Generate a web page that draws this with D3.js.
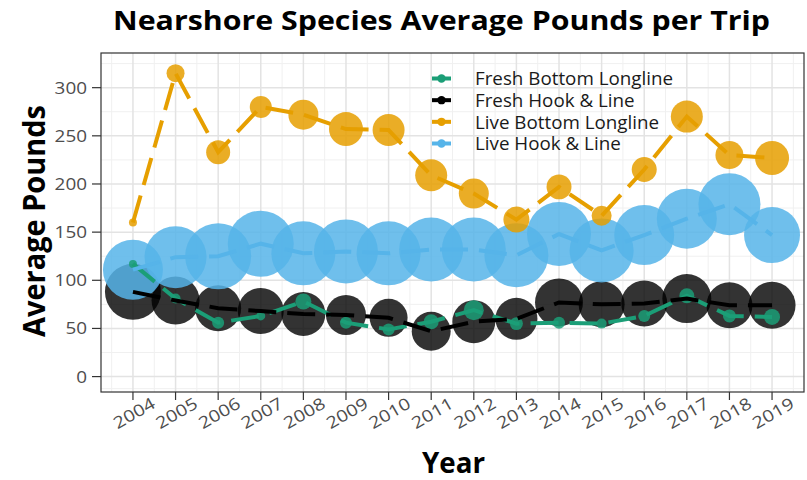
<!DOCTYPE html>
<html>
<head>
<meta charset="utf-8">
<script src="https://cdn.jsdelivr.net/npm/d3@7"></script>
<style>
body { margin:0; background:#fff; }
svg { display:block; font-family:"Open Sans", sans-serif; }
</style>
</head>
<body>
<div id="chart"></div>
<script>
// years on the x axis
var years = [2004,2005,2006,2007,2008,2009,2010,2011,2012,2013,2014,2015,2016,2017,2018,2019];

// average pounds per trip, per series
var freshBottom = [117,81,56,63,78,56,49,57,69,55,56,55,63,84,63,62];
var freshHook   = [88,79,71,68,65,64,61,47,57,60,77,75,76,81,74,74];
var liveBottom  = [160,315,233,280,272,257,256,209,190,163,197,167,215,270,230,227];
var liveHook    = [111,124,125,138,128,130,128,132,132,126,148,131,147,164,179,147];

// point size variable (trips)
var freshBottomTrips = [16,25,36,20,64,36,36,56,100,42,36,25,36,56,42,64];
var freshHookTrips   = [784,576,529,529,484,400,361,380,462,441,576,529,529,600,529,552];
var liveBottomTrips  = [16,81,144,121,225,289,256,256,225,169,156,100,156,256,196,289];
var liveHookTrips    = [900,961,1089,1089,1024,1024,1024,1024,1024,1024,1024,1024,900,900,961,784];

var seriesNames = ["Fresh Bottom Longline","Fresh Hook & Line","Live Bottom Longline","Live Hook & Line"];
var yTicks = [0,50,100,150,200,250,300];

var colors = {"Fresh Bottom Longline":"#1b9e77","Fresh Hook & Line":"#000000","Live Bottom Longline":"#e69f00","Live Hook & Line":"#56b4e9"};

var series = [
	{name:seriesNames[0], values:freshBottom, trips:freshBottomTrips},
	{name:seriesNames[1], values:freshHook, trips:freshHookTrips},
	{name:seriesNames[2], values:liveBottom, trips:liveBottomTrips},
	{name:seriesNames[3], values:liveHook, trips:liveHookTrips}
];

var W = 807, H = 480;
var pLeft = 101, pRight = 804, pTop = 53, pBottom = 392;

var svg = d3.select("#chart").append("svg").attr("width", W).attr("height", H);

var x = d3.scaleLinear().domain([2003.25, 2019.75]).range([pLeft, pRight]);
var y = d3.scaleLinear().domain([-16, 336]).range([pBottom, pTop]);
var r = d3.scaleSqrt().domain([0, 1089]).range([0, 33]);

// grid
var g = svg.append("g");
var minorX = years.slice(0, -1).map(function(d){ return d + 0.5; });
minorX.unshift(2003.5);
minorX.push(2019.5);
g.selectAll(".mx").data(minorX).enter().append("line")
	.attr("x1", function(d){ return x(d); }).attr("x2", function(d){ return x(d); })
	.attr("y1", pTop).attr("y2", pBottom).attr("stroke", "#f0f0f0").attr("stroke-width", 1);
var minorY = [-12.5,25,75,125,175,225,275,325];
g.selectAll(".my").data(minorY).enter().append("line")
	.attr("x1", pLeft).attr("x2", pRight)
	.attr("y1", function(d){ return y(d); }).attr("y2", function(d){ return y(d); })
	.attr("stroke", "#f0f0f0").attr("stroke-width", 1);
g.selectAll(".gx").data(years).enter().append("line")
	.attr("x1", function(d){ return x(d); }).attr("x2", function(d){ return x(d); })
	.attr("y1", pTop).attr("y2", pBottom).attr("stroke", "#e3e3e3").attr("stroke-width", 1.5);
g.selectAll(".gy").data(yTicks).enter().append("line")
	.attr("x1", pLeft).attr("x2", pRight)
	.attr("y1", function(d){ return y(d); }).attr("y2", function(d){ return y(d); })
	.attr("stroke", "#e3e3e3").attr("stroke-width", 1.5);

// points: drawn in the stacking order seen in the picture
var pointOrder = [1, 3, 2, 0];
pointOrder.forEach(function(k)
{
	var s = series[k];
	svg.append("g").selectAll("circle").data(s.values).enter().append("circle")
		.attr("cx", function(d, i){ return x(years[i]); })
		.attr("cy", function(d){ return y(d); })
		.attr("r", function(d, i){ return r(s.trips[i]); })
		.attr("fill", colors[s.name])
		.attr("fill-opacity", s.name == "Fresh Hook & Line" ? 0.8 : 0.85);
});

// lines on top
var line = d3.line().x(function(d, i){ return x(years[i]); }).y(function(d){ return y(d); });
[0, 1, 2, 3].forEach(function(k)
{
	var s = series[k];
	svg.append("path").attr("d", line(s.values))
		.attr("fill", "none")
		.attr("stroke", colors[s.name])
		.attr("stroke-width", 4)
		.attr("stroke-dasharray", "28,11");
});

// panel border
svg.append("rect").attr("x", pLeft).attr("y", pTop).attr("width", pRight-pLeft).attr("height", pBottom-pTop)
	.attr("fill", "none").attr("stroke", "#333").attr("stroke-width", 1.2);

// y axis
var ya = svg.append("g");
ya.selectAll("line").data(yTicks).enter().append("line")
	.attr("x1", pLeft-9).attr("x2", pLeft)
	.attr("y1", function(d){ return y(d); }).attr("y2", function(d){ return y(d); })
	.attr("stroke", "#333").attr("stroke-width", 1.2);
ya.selectAll("text").data(yTicks).enter().append("text")
	.attr("x", 87).attr("y", function(d){ return y(d); })
	.attr("dy", "0.36em").attr("text-anchor", "end")
	.attr("font-size", 16.5).attr("fill", "#4d4d4d")
	.attr("textLength", function(d){ return String(d).length * 10.8; })
	.attr("lengthAdjust", "spacingAndGlyphs")
	.text(function(d){ return d; });

// x axis
var xa = svg.append("g");
xa.selectAll("line").data(years).enter().append("line")
	.attr("x1", function(d){ return x(d); }).attr("x2", function(d){ return x(d); })
	.attr("y1", pBottom).attr("y2", pBottom+8)
	.attr("stroke", "#333").attr("stroke-width", 1.2);
xa.selectAll("text").data(years).enter().append("text")
	.attr("transform", function(d){ return "translate(" + (x(d)+1) + ",413) rotate(-30)"; })
	.attr("dy", "0.36em").attr("text-anchor", "middle")
	.attr("font-size", 16.5).attr("fill", "#4d4d4d")
	.attr("textLength", 45).attr("lengthAdjust", "spacingAndGlyphs")
	.text(function(d){ return d; });

// titles
svg.append("text").attr("x", 441.5).attr("y", 30).attr("text-anchor", "middle")
	.attr("font-size", 27).attr("font-weight", "bold").attr("fill", "#000")
	.attr("textLength", 657).attr("lengthAdjust", "spacingAndGlyphs")
	.text("Nearshore Species Average Pounds per Trip");
svg.append("text").attr("x", 453.5).attr("y", 473).attr("text-anchor", "middle")
	.attr("font-size", 29).attr("font-weight", "bold").attr("fill", "#000")
	.attr("textLength", 63).attr("lengthAdjust", "spacingAndGlyphs")
	.text("Year");
svg.append("text").attr("transform", "translate(45,221) rotate(-90)").attr("text-anchor", "middle")
	.attr("font-size", 30).attr("font-weight", "bold").attr("fill", "#000")
	.attr("textLength", 232).attr("lengthAdjust", "spacingAndGlyphs")
	.text("Average Pounds");

// legend
var lg = svg.append("g");
var rowY = d3.scalePoint().domain(seriesNames).range([78.5, 143.5]);
seriesNames.forEach(function(n)
{
	var yy = rowY(n);
	lg.append("line").attr("x1", 432).attr("x2", 451).attr("y1", yy).attr("y2", yy)
		.attr("stroke", colors[n]).attr("stroke-width", 4);
	lg.append("circle").attr("cx", 441.5).attr("cy", yy).attr("r", 4.2).attr("fill", colors[n]);
	lg.append("text").attr("x", 475).attr("y", yy).attr("dy", "0.36em")
		.attr("font-size", 18.8).attr("fill", "#1a1a1a").text(n);
});
</script>
</body>
</html>
